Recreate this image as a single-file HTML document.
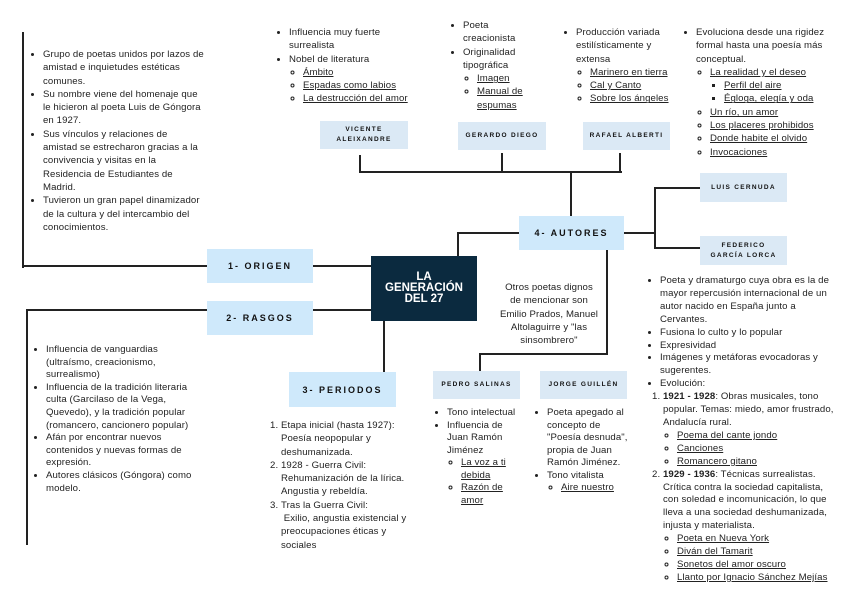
<!DOCTYPE html>
<html><head><meta charset="utf-8"><style>
body{margin:0;width:848px;height:600px;background:#fff;position:relative;overflow:hidden;font-family:"Liberation Sans",sans-serif;color:#222}
.l{position:absolute;background:#222}
.b{position:absolute;display:flex;align-items:center;justify-content:center;text-align:center;font-weight:bold;letter-spacing:2px;color:#111}
.m{background:#cfe9fb;font-size:9px}
.s{background:#dbe9f5;font-size:6.5px;letter-spacing:1.3px;line-height:10px}
.t{position:absolute;font-size:9.6px;line-height:13.3px;color:#222;letter-spacing:0.1px}
ul,ol{margin:0;padding-left:11px}
ul ul,ol ul{padding-left:14px;list-style:circle}
ul ul ul{list-style:square}
li{margin:0}
u{text-decoration:underline}
</style></head><body>
<!-- lines -->
<div class="l" style="left:22px;top:32px;width:2px;height:236px"></div>
<div class="l" style="left:22px;top:265px;width:186px;height:2px"></div>
<div class="l" style="left:313px;top:265px;width:60px;height:2px"></div>
<div class="l" style="left:26px;top:309px;width:2px;height:236px"></div>
<div class="l" style="left:26px;top:309px;width:182px;height:2px"></div>
<div class="l" style="left:313px;top:309px;width:60px;height:2px"></div>
<div class="l" style="left:383px;top:321px;width:2px;height:54px"></div>
<div class="l" style="left:457px;top:232px;width:2px;height:25px"></div>
<div class="l" style="left:457px;top:232px;width:62px;height:2px"></div>
<div class="l" style="left:624px;top:232px;width:32px;height:2px"></div>
<div class="l" style="left:654px;top:187px;width:2px;height:62px"></div>
<div class="l" style="left:654px;top:187px;width:46px;height:2px"></div>
<div class="l" style="left:654px;top:247px;width:46px;height:2px"></div>
<div class="l" style="left:570px;top:171px;width:2px;height:45px"></div>
<div class="l" style="left:359px;top:171px;width:263px;height:2px"></div>
<div class="l" style="left:359px;top:155px;width:2px;height:18px"></div>
<div class="l" style="left:501px;top:153px;width:2px;height:19px"></div>
<div class="l" style="left:619px;top:153px;width:2px;height:19px"></div>
<div class="l" style="left:606px;top:250px;width:2px;height:105px"></div>
<div class="l" style="left:479px;top:353px;width:129px;height:2px"></div>
<div class="l" style="left:479px;top:353px;width:2px;height:18px"></div>
<!-- boxes -->
<div class="b" style="left:371px;top:256px;width:106px;height:65px;background:#0b2a3f;color:#fff;font-size:11.5px;letter-spacing:0;line-height:11px">LA<br>GENERACIÓN<br>DEL 27</div>
<div class="b m" style="left:207px;top:249px;width:106px;height:34px">1- ORIGEN</div>
<div class="b m" style="left:207px;top:301px;width:106px;height:34px">2- RASGOS</div>
<div class="b m" style="left:289px;top:372px;width:107px;height:35px">3- PERIODOS</div>
<div class="b m" style="left:519px;top:216px;width:105px;height:34px">4- AUTORES</div>
<div class="b s" style="left:320px;top:121px;width:88px;height:28px">VICENTE<br>ALEIXANDRE</div>
<div class="b s" style="left:458px;top:122px;width:88px;height:28px">GERARDO DIEGO</div>
<div class="b s" style="left:583px;top:122px;width:87px;height:28px">RAFAEL ALBERTI</div>
<div class="b s" style="left:700px;top:173px;width:87px;height:29px">LUIS CERNUDA</div>
<div class="b s" style="left:700px;top:236px;width:87px;height:29px">FEDERICO<br>GARCÍA LORCA</div>
<div class="b s" style="left:433px;top:371px;width:87px;height:28px">PEDRO SALINAS</div>
<div class="b s" style="left:540px;top:371px;width:87px;height:28px">JORGE GUILLÉN</div>
<!-- texts -->
<div class="t" style="left:32px;top:48px;width:172px"><ul>
<li>Grupo de poetas unidos por lazos de amistad e inquietudes estéticas comunes.</li>
<li>Su nombre viene del homenaje que le hicieron al poeta Luis de Góngora en 1927.</li>
<li>Sus vínculos y relaciones de amistad se estrecharon gracias a la convivencia y visitas en la Residencia de Estudiantes de Madrid.</li>
<li>Tuvieron un gran papel dinamizador de la cultura y del intercambio del conocimientos.</li></ul></div>
<div class="t" style="left:278px;top:26px;width:140px"><ul>
<li>Influencia muy fuerte surrealista</li>
<li>Nobel de literatura<ul><li><u>Ámbito</u></li><li><u>Espadas como labios</u></li><li><u>La destrucción del amor</u></li></ul></li></ul></div>
<div class="t" style="left:452px;top:19px;width:72px"><ul>
<li>Poeta creacionista</li>
<li>Originalidad tipográfica<ul><li><u>Imagen</u></li><li><u>Manual de espumas</u></li></ul></li></ul></div>
<div class="t" style="left:565px;top:26px;width:112px"><ul>
<li>Producción variada estilísticamente y extensa<ul><li><u>Marinero en tierra</u></li><li><u>Cal y Canto</u></li><li><u>Sobre los ángeles</u></li></ul></li></ul></div>
<div class="t" style="left:685px;top:26px;width:152px"><ul>
<li>Evoluciona desde una rigidez formal hasta una poesía más conceptual.<ul><li><u>La realidad y el deseo</u><ul><li><u>Perfil del aire</u></li><li><u>Égloga, elegía y oda</u></li></ul></li><li><u>Un río, un amor</u></li><li><u>Los placeres prohibidos</u></li><li><u>Donde habite el olvido</u></li><li><u>Invocaciones</u></li></ul></li></ul></div>
<div class="t" style="left:35px;top:344px;width:165px;line-height:12.6px"><ul>
<li>Influencia de vanguardias (ultraísmo, creacionismo, surrealismo)</li>
<li>Influencia de la tradición literaria culta (Garcilaso de la Vega, Quevedo), y la tradición popular (romancero, cancionero popular)</li>
<li>Afán por encontrar nuevos contenidos y nuevas formas de expresión.</li>
<li>Autores clásicos (Góngora) como modelo.</li></ul></div>
<div class="t" style="left:270px;top:419px;width:142px"><ol>
<li>Etapa inicial (hasta 1927): Poesía neopopular y deshumanizada.</li>
<li>1928 - Guerra Civil: Rehumanización de la lírica. Angustia y rebeldía.</li>
<li>Tras la Guerra Civil:<br>&nbsp;Exilio, angustia existencial y preocupaciones éticas y sociales</li></ol></div>
<div class="t" style="left:499px;top:281px;width:100px;text-align:center">Otros poetas dignos de mencionar son Emilio Prados, Manuel Altolaguirre y "las sinsombrero"</div>
<div class="t" style="left:436px;top:407px;width:88px;line-height:12.5px"><ul>
<li>Tono intelectual</li>
<li>Influencia de Juan Ramón Jiménez<ul><li><u>La voz a ti debida</u></li><li><u>Razón de amor</u></li></ul></li></ul></div>
<div class="t" style="left:536px;top:407px;width:92px;line-height:12.5px"><ul>
<li>Poeta apegado al concepto de "Poesía desnuda", propia de Juan Ramón Jiménez.</li>
<li>Tono vitalista<ul><li><u>Aire nuestro</u></li></ul></li></ul></div>
<div class="t" style="left:649px;top:275px;width:190px;line-height:12.9px"><ul>
<li>Poeta y dramaturgo cuya obra es la de mayor repercusión internacional de un autor nacido en España junto a Cervantes.</li>
<li>Fusiona lo culto y lo popular</li>
<li>Expresividad</li>
<li>Imágenes y metáforas evocadoras y sugerentes.</li>
<li>Evolución:</li></ul>
<ol style="padding-left:14px"><li><b>1921 - 1928</b>: Obras musicales, tono popular. Temas: miedo, amor frustrado, Andalucía rural.<ul><li><u>Poema del cante jondo</u></li><li><u>Canciones</u></li><li><u>Romancero gitano</u></li></ul></li>
<li><b>1929 - 1936</b>: Técnicas surrealistas. Crítica contra la sociedad capitalista, con soledad e incomunicación, lo que lleva a una sociedad deshumanizada, injusta y materialista.<ul><li><u>Poeta en Nueva York</u></li><li><u>Diván del Tamarit</u></li><li><u>Sonetos del amor oscuro</u></li><li><u>Llanto por Ignacio Sánchez Mejías</u></li></ul></li></ol></div>
</body></html>
